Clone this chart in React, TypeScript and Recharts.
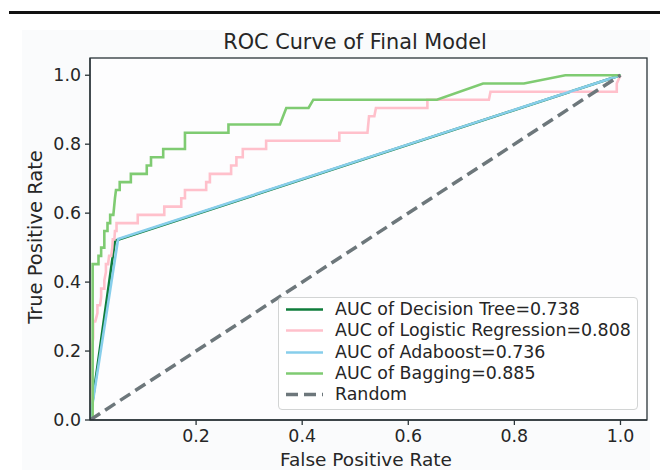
import React from "react";
import { LineChart, Line, XAxis, YAxis } from "recharts";

// ---- data ----
const xTicks = [0.2, 0.4, 0.6, 0.8, 1.0];
const yTicks = [0.0, 0.2, 0.4, 0.6, 0.8, 1.0];

const seriesNames = [
  "AUC of Decision Tree=0.738",
  "AUC of Logistic Regression=0.808",
  "AUC of Adaboost=0.736",
  "AUC of Bagging=0.885",
  "Random",
];

const treeFpr = [0, 0.047, 1.0];
const treeTpr = [0, 0.52, 1.0];

const adaFpr = [0, 0.053, 1.0];
const adaTpr = [0, 0.525, 1.0];

const logFpr = [
  0, 0.004, 0.006, 0.006, 0.01, 0.014, 0.014, 0.019, 0.021, 0.021, 0.027, 0.027,
  0.03, 0.03, 0.034, 0.036, 0.04, 0.042, 0.043, 0.046, 0.047, 0.05, 0.05, 0.09,
  0.09, 0.14, 0.14, 0.172, 0.172, 0.179, 0.179, 0.219, 0.219, 0.226, 0.226,
  0.266, 0.266, 0.276, 0.276, 0.288, 0.288, 0.332, 0.332, 0.47, 0.47, 0.523,
  0.526, 0.536, 0.539, 0.636, 0.636, 0.752, 0.755, 0.993, 0.993, 1.0,
];
const logTpr = [
  0, 0.214, 0.238, 0.286, 0.286, 0.31, 0.333, 0.333, 0.357, 0.381, 0.381, 0.405,
  0.429, 0.452, 0.452, 0.476, 0.476, 0.5, 0.524, 0.524, 0.548, 0.548, 0.571,
  0.571, 0.595, 0.595, 0.619, 0.619, 0.643, 0.643, 0.667, 0.667, 0.69, 0.69,
  0.714, 0.714, 0.738, 0.738, 0.762, 0.762, 0.786, 0.786, 0.81, 0.81, 0.833,
  0.833, 0.881, 0.881, 0.905, 0.905, 0.929, 0.929, 0.952, 0.952, 0.976, 1.0,
];

const bagFpr = [
  0, 0.005, 0.005, 0.016, 0.016, 0.021, 0.021, 0.027, 0.027, 0.033, 0.033, 0.038,
  0.038, 0.044, 0.047, 0.049, 0.056, 0.056, 0.077, 0.077, 0.107, 0.107, 0.115,
  0.115, 0.138, 0.138, 0.179, 0.179, 0.261, 0.261, 0.358, 0.37, 0.412, 0.421,
  0.654, 0.741, 0.818, 0.896, 1.0,
];
const bagTpr = [
  0, 0, 0.452, 0.452, 0.476, 0.476, 0.5, 0.5, 0.548, 0.548, 0.571, 0.571, 0.595,
  0.595, 0.643, 0.667, 0.667, 0.69, 0.69, 0.714, 0.714, 0.738, 0.738, 0.762,
  0.762, 0.786, 0.786, 0.833, 0.833, 0.857, 0.857, 0.905, 0.905, 0.929, 0.929,
  0.976, 0.976, 1.0, 1.0,
];

const randFpr = [0, 1];
const randTpr = [0, 1];

const toPoints = (xs: number[], ys: number[]) => xs.map((x, i) => ({ x, y: ys[i] }));

const colors = ["#0f7d3b", "#ffc0cb", "#87ceeb", "#7fcb72", "#6d777b"];
const FONT = "'DejaVu Sans', sans-serif";
const TEXT = "#262626";
const SPINE = "#2a3438";

const W = 660;
const H = 470;
const PL = 90;
const PR = 647;
const PT = 58;
const PB = 420;

const legendItems = seriesNames.map((name, i) => ({ name, color: colors[i], dashed: i === 4 }));

function ChartLegend() {
  return (
    <div
      style={{
        position: "absolute",
        left: 278,
        top: 297,
        width: 360,
        height: 113,
        boxSizing: "border-box",
        border: "1px solid #d2d4d4",
        borderRadius: 4,
        background: "rgba(255,255,255,0.85)",
        fontFamily: FONT,
        fontSize: 17.4,
        color: TEXT,
      }}
    >
      {legendItems.map((it, i) => (
        <div
          key={it.name}
          style={{
            position: "absolute",
            left: 0,
            top: 1 + i * 21.25,
            height: 21,
            width: 358,
            lineHeight: "21px",
            whiteSpace: "nowrap",
          }}
        >
          <svg width={40} height={21} style={{ position: "absolute", left: 6, top: 0 }}>
            <line
              x1={1}
              x2={38}
              y1={10.5}
              y2={10.5}
              stroke={it.color}
              strokeWidth={it.dashed ? 3.5 : 2.6}
              strokeDasharray={it.dashed ? "12 6" : undefined}
            />
          </svg>
          <span style={{ position: "absolute", left: 56, top: 0 }}>{it.name}</span>
        </div>
      ))}
    </div>
  );
}

export default function App() {
  const fmt = (v: number) => v.toFixed(1);
  return (
    <div style={{ position: "absolute", left: 0, top: 0, width: W, height: H, background: "#ffffff" }}>
      <div style={{ position: "absolute", left: 22, top: 30, width: 628, height: 440, background: "#fafbfc" }} />
      <div style={{ position: "absolute", left: PL, top: PT, width: PR - PL, height: PB - PT, background: "#fdfdfe" }} />
      <div style={{ position: "absolute", left: 0, top: 0 }}>
        <LineChart width={W} height={H} margin={{ top: PT, right: W - PR, bottom: 0, left: 0 }}>
          <XAxis
            type="number"
            dataKey="x"
            domain={[0, 1.05]}
            ticks={xTicks}
            tickFormatter={fmt}
            height={H - PB}
            allowDataOverflow
            axisLine={{ stroke: SPINE, strokeWidth: 1.3 }}
            tickLine={{ stroke: SPINE, strokeWidth: 1.3 }}
            tickSize={5}
            tickMargin={5}
            tick={{ fill: TEXT, fontSize: 17.4, fontFamily: FONT }}
          />
          <YAxis
            type="number"
            dataKey="y"
            domain={[0, 1.05]}
            ticks={yTicks}
            tickFormatter={fmt}
            width={PL}
            allowDataOverflow
            axisLine={{ stroke: SPINE, strokeWidth: 1.3 }}
            tickLine={{ stroke: SPINE, strokeWidth: 1.3 }}
            tickSize={5}
            tickMargin={4}
            tick={{ fill: TEXT, fontSize: 17.4, fontFamily: FONT }}
          />
          <Line data={toPoints(treeFpr, treeTpr)} dataKey="y" name={seriesNames[0]} type="linear" stroke={colors[0]} strokeWidth={2.6} dot={false} isAnimationActive={false} />
          <Line data={toPoints(logFpr, logTpr)} dataKey="y" name={seriesNames[1]} type="linear" stroke={colors[1]} strokeWidth={2.6} dot={false} isAnimationActive={false} />
          <Line data={toPoints(adaFpr, adaTpr)} dataKey="y" name={seriesNames[2]} type="linear" stroke={colors[2]} strokeWidth={2.6} dot={false} isAnimationActive={false} />
          <Line data={toPoints(bagFpr, bagTpr)} dataKey="y" name={seriesNames[3]} type="linear" stroke={colors[3]} strokeWidth={2.6} dot={false} isAnimationActive={false} />
          <Line data={toPoints(randFpr, randTpr)} dataKey="y" name={seriesNames[4]} type="linear" stroke={colors[4]} strokeWidth={3.5} strokeDasharray="12 6" dot={false} isAnimationActive={false} />
        </LineChart>
      </div>
      <ChartLegend />
      <svg width={W} height={H} style={{ position: "absolute", left: 0, top: 0, pointerEvents: "none" }}>
        <rect x={9} y={11} width={651} height={3} fill="#111" />
        <rect x={PL} y={PT} width={PR - PL} height={PB - PT} fill="none" stroke={SPINE} strokeWidth={1.3} />
        <text x={355} y={49} textAnchor="middle" fontFamily={FONT} fontSize={20.8} fill={TEXT}>
          ROC Curve of Final Model
        </text>
        <text x={366} y={465.5} textAnchor="middle" fontFamily={FONT} fontSize={18.5} fill={TEXT}>
          False Positive Rate
        </text>
        <text transform={`translate(42, 237) rotate(-90)`} textAnchor="middle" fontFamily={FONT} fontSize={19.5} fill={TEXT}>
          True Positive Rate
        </text>
      </svg>
    </div>
  );
}
